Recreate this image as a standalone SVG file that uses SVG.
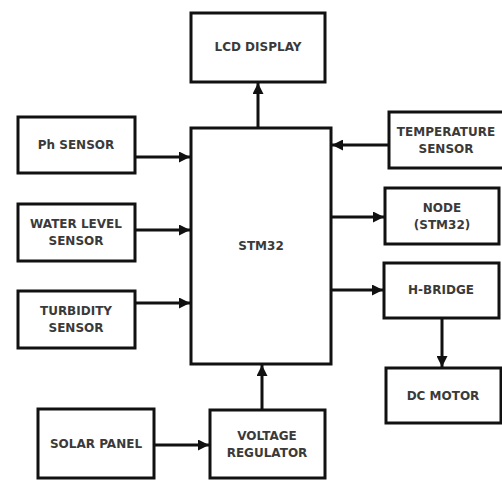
<svg xmlns="http://www.w3.org/2000/svg" width="502" height="480" viewBox="0 0 502 480">
<defs>
<marker id="ah" viewBox="0 0 10 10" refX="10" refY="5" markerWidth="11" markerHeight="11" markerUnits="userSpaceOnUse" orient="auto">
<path d="M0,0 L10,5 L0,10 Z" fill="#111"/>
</marker>
</defs>
<style>
rect{fill:#fff;stroke:#111;stroke-width:3}
text{font-family:"DejaVu Sans","Open Sans",sans-serif;font-weight:bold;font-size:12px;fill:#3a3a3a;text-anchor:middle;dominant-baseline:central}
.c line{stroke:#111;stroke-width:3;marker-end:url(#ah)}
</style>
<rect x="0" y="0" width="502" height="480" style="stroke:none;fill:#fff"/>
<g class="c" id="connectors">
<line x1="258" y1="128" x2="258" y2="83"/>
<line x1="135" y1="157" x2="190" y2="157"/>
<line x1="135" y1="230" x2="190" y2="230"/>
<line x1="135" y1="303" x2="190" y2="303"/>
<line x1="389" y1="145" x2="332" y2="145"/>
<line x1="331" y1="217" x2="384" y2="217"/>
<line x1="331" y1="290" x2="383" y2="290"/>
<line x1="442" y1="318" x2="442" y2="367"/>
<line x1="154" y1="445" x2="209" y2="445"/>
<line x1="262" y1="410" x2="262" y2="365"/>
</g>
<g id="lcd"><rect x="191" y="13" width="134" height="69"/><text x="258" y="47">LCD DISPLAY</text></g>
<g id="ph"><rect x="18" y="117" width="117" height="56"/><text x="76" y="145">Ph SENSOR</text></g>
<g id="water"><rect x="18" y="204" width="117" height="57"/><text x="76" y="224">WATER LEVEL</text><text x="76" y="241">SENSOR</text></g>
<g id="turbidity"><rect x="18" y="291" width="117" height="57"/><text x="76" y="311">TURBIDITY</text><text x="76" y="328">SENSOR</text></g>
<g id="stm32"><rect x="191" y="128" width="140" height="236"/><text x="261" y="246">STM32</text></g>
<g id="temp"><rect x="389" y="112" width="116" height="56"/><text x="446" y="132">TEMPERATURE</text><text x="446" y="149">SENSOR</text></g>
<g id="node"><rect x="385" y="188" width="114" height="56"/><text x="442" y="208">NODE</text><text x="442" y="225">(STM32)</text></g>
<g id="hbridge"><rect x="384" y="263" width="115" height="55"/><text x="441" y="290">H-BRIDGE</text></g>
<g id="motor"><rect x="386" y="368" width="115" height="55"/><text x="443" y="396">DC MOTOR</text></g>
<g id="solar"><rect x="38" y="409" width="116" height="69"/><text x="96" y="444">SOLAR PANEL</text></g>
<g id="regulator"><rect x="210" y="410" width="115" height="68"/><text x="267" y="436">VOLTAGE</text><text x="267" y="453">REGULATOR</text></g>
</svg>
